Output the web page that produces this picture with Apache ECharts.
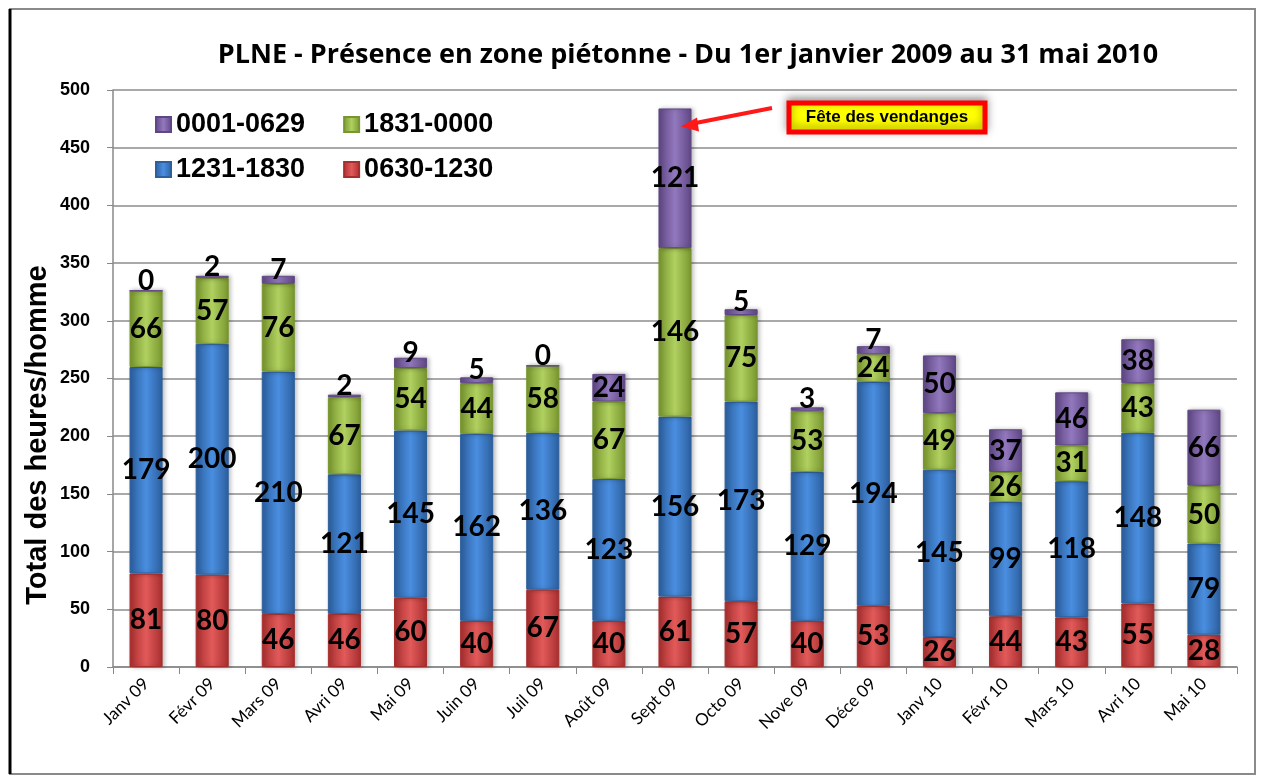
<!DOCTYPE html>
<html>
<head>
<meta charset="utf-8">
<script src="https://cdn.jsdelivr.net/npm/echarts@6/dist/echarts.min.js"></script>
<style>
  html, body { margin: 0; padding: 0; background: #fff; }
  #main { width: 1262px; height: 776px; }
</style>
</head>
<body>
<div id="main"></div>
<script>
// categories (months)
var months = ['Janv 09', 'Févr 09', 'Mars 09', 'Avri 09', 'Mai 09', 'Juin 09', 'Juil 09', 'Août 09',
  'Sept 09', 'Octo 09', 'Nove 09', 'Déce 09', 'Janv 10', 'Févr 10', 'Mars 10', 'Avri 10', 'Mai 10'];

// hours per time slot, bottom to top of each stack
var s0630 = [81, 80, 46, 46, 60, 40, 67, 40, 61, 57, 40, 53, 26, 44, 43, 55, 28];
var s1231 = [179, 200, 210, 121, 145, 162, 136, 123, 156, 173, 129, 194, 145, 99, 118, 148, 79];
var s1831 = [66, 57, 76, 67, 54, 44, 58, 67, 146, 75, 53, 24, 49, 26, 31, 43, 50];
var s0001 = [0, 2, 7, 2, 9, 5, 0, 24, 121, 5, 3, 7, 50, 37, 46, 38, 66];

var yTicks = [0, 50, 100, 150, 200, 250, 300, 350, 400, 450, 500];

var chart = echarts.init(document.getElementById('main'));

// bevel-ish look: lighter in the middle, darker on the sides
function grad(light, dark) {
  return new echarts.graphic.LinearGradient(0, 0, 1, 0, [
    { offset: 0, color: dark },
    { offset: 0.5, color: light },
    { offset: 1, color: dark }
  ]);
}

var labelStyle = {
  show: true,
  position: 'inside',
  color: '#000',
  fontFamily: 'Lato',
  fontWeight: 'bold',
  fontSize: 28
};

function mkSeries(name, values, light, dark) {
  // tiny top segments: push the label a bit up like in the original
  var data = values.map(function (v) {
    if (name === '0001-0629' && v < 10) {
      return { value: v, label: { offset: [0, -10] } };
    }
    return v;
  });
  return {
    name: name,
    type: 'bar',
    stack: 'total',
    barWidth: '50%',
    data: data,
    itemStyle: {
      color: grad(light, dark),
      borderColor: dark,
      borderWidth: 1,
      shadowColor: 'rgba(0,0,0,0.25)',
      shadowBlur: 4,
      shadowOffsetX: 2
    },
    label: labelStyle
  };
}

var legendText = { fontFamily: 'Liberation Sans', fontWeight: 'bold', fontSize: 27, color: '#000' };

chart.setOption({
  animation: false,
  backgroundColor: '#fff',
  title: {
    text: 'PLNE - Présence en zone piétonne - Du 1er janvier 2009 au 31 mai 2010',
    left: 683,
    textAlign: 'center',
    top: 37,
    textStyle: { fontFamily: 'Open Sans', fontWeight: 'bold', fontSize: 27, color: '#000' }
  },
  legend: [
    {
      data: ['0001-0629', '1831-0000'],
      left: 150, top: 106,
      itemWidth: 15, itemHeight: 15, itemGap: 38,
      icon: 'rect',
      textStyle: legendText
    },
    {
      data: ['1231-1830', '0630-1230'],
      left: 150, top: 151,
      itemWidth: 15, itemHeight: 15, itemGap: 38,
      icon: 'rect',
      textStyle: legendText
    }
  ],
  grid: { left: 113, right: 25, top: 90, bottom: 109 },
  xAxis: {
    type: 'category',
    data: months,
    axisLine: { lineStyle: { color: '#888', width: 1.5 } },
    axisTick: { show: true, length: 7, lineStyle: { color: '#888' } },
    axisLabel: {
      rotate: 45, interval: 0, margin: 14,
      fontFamily: 'Lato', fontSize: 17, color: '#000'
    }
  },
  yAxis: {
    type: 'value',
    min: yTicks[0],
    max: yTicks[yTicks.length - 1],
    interval: 50,
    axisLine: { show: true, lineStyle: { color: '#888', width: 1.5 } },
    axisTick: { show: true, length: 6, lineStyle: { color: '#888' } },
    axisLabel: { fontFamily: 'Liberation Sans', fontWeight: 'bold', fontSize: 18, color: '#000', margin: 23 },
    splitLine: { lineStyle: { color: '#8c8c8c', width: 1.5 } }
  },
  series: [
    mkSeries('0630-1230', s0630, '#e25a5a', '#a82e2e'),
    mkSeries('1231-1830', s1231, '#4a8ee0', '#2c5f9e'),
    mkSeries('1831-0000', s1831, '#b0d060', '#78962e'),
    mkSeries('0001-0629', s0001, '#9278bd', '#5f4785')
  ]
});

// annotation for the September peak, anchored to the bar top
var sept = months.indexOf('Sept 09');
var septTop = s0630[sept] + s1231[sept] + s1831[sept] + s0001[sept];
var tip = chart.convertToPixel({ gridIndex: 0 }, [sept, septTop]);
var ax = tip[0] + 10, ay = tip[1] + 17;
var bx = 789, by = 103, bw = 196, bh = 29;

chart.setOption({
  graphic: [
    { type: 'rect', shape: { x: 10, y: 9, width: 1245, height: 765 }, style: { fill: null, stroke: '#8a8a8a', lineWidth: 2 }, silent: true },
    { type: 'line', shape: { x1: 10, y1: 9, x2: 10, y2: 774 }, style: { stroke: '#000', lineWidth: 3 }, silent: true },
    // y axis title, sits a bit lower than the plot centre like in the original
    { type: 'text', x: 38, y: 435, rotation: Math.PI / 2, style: { text: 'Total des heures/homme', fontFamily: 'Liberation Sans', fontWeight: 'bold', fontSize: 29, fill: '#000', align: 'center', verticalAlign: 'middle' } },
    { type: 'line', shape: { x1: bx - 17, y1: by + 5, x2: ax + 8, y2: ay - 2 }, style: { stroke: '#ff1a1a', lineWidth: 4 }, z: 100 },
    { type: 'polygon', shape: { points: [[ax - 4, ay + 1], [ax + 12, ay - 8], [ax + 14, ay + 6]] }, style: { fill: '#ff1a1a' }, z: 100 },
    { type: 'rect', shape: { x: bx, y: by, width: bw, height: bh }, style: { fill: '#ffff00', stroke: '#ff0000', lineWidth: 5, shadowColor: 'rgba(0,0,0,0.35)', shadowBlur: 8, shadowOffsetY: -3 }, z: 100 },
    { type: 'text', x: bx + bw / 2, y: by + bh / 2, style: { text: 'Fête des vendanges', fontFamily: 'Liberation Sans', fontWeight: 'bold', fontSize: 17, fill: '#000', align: 'center', verticalAlign: 'middle' }, z: 101 }
  ]
});
</script>
</body>
</html>
